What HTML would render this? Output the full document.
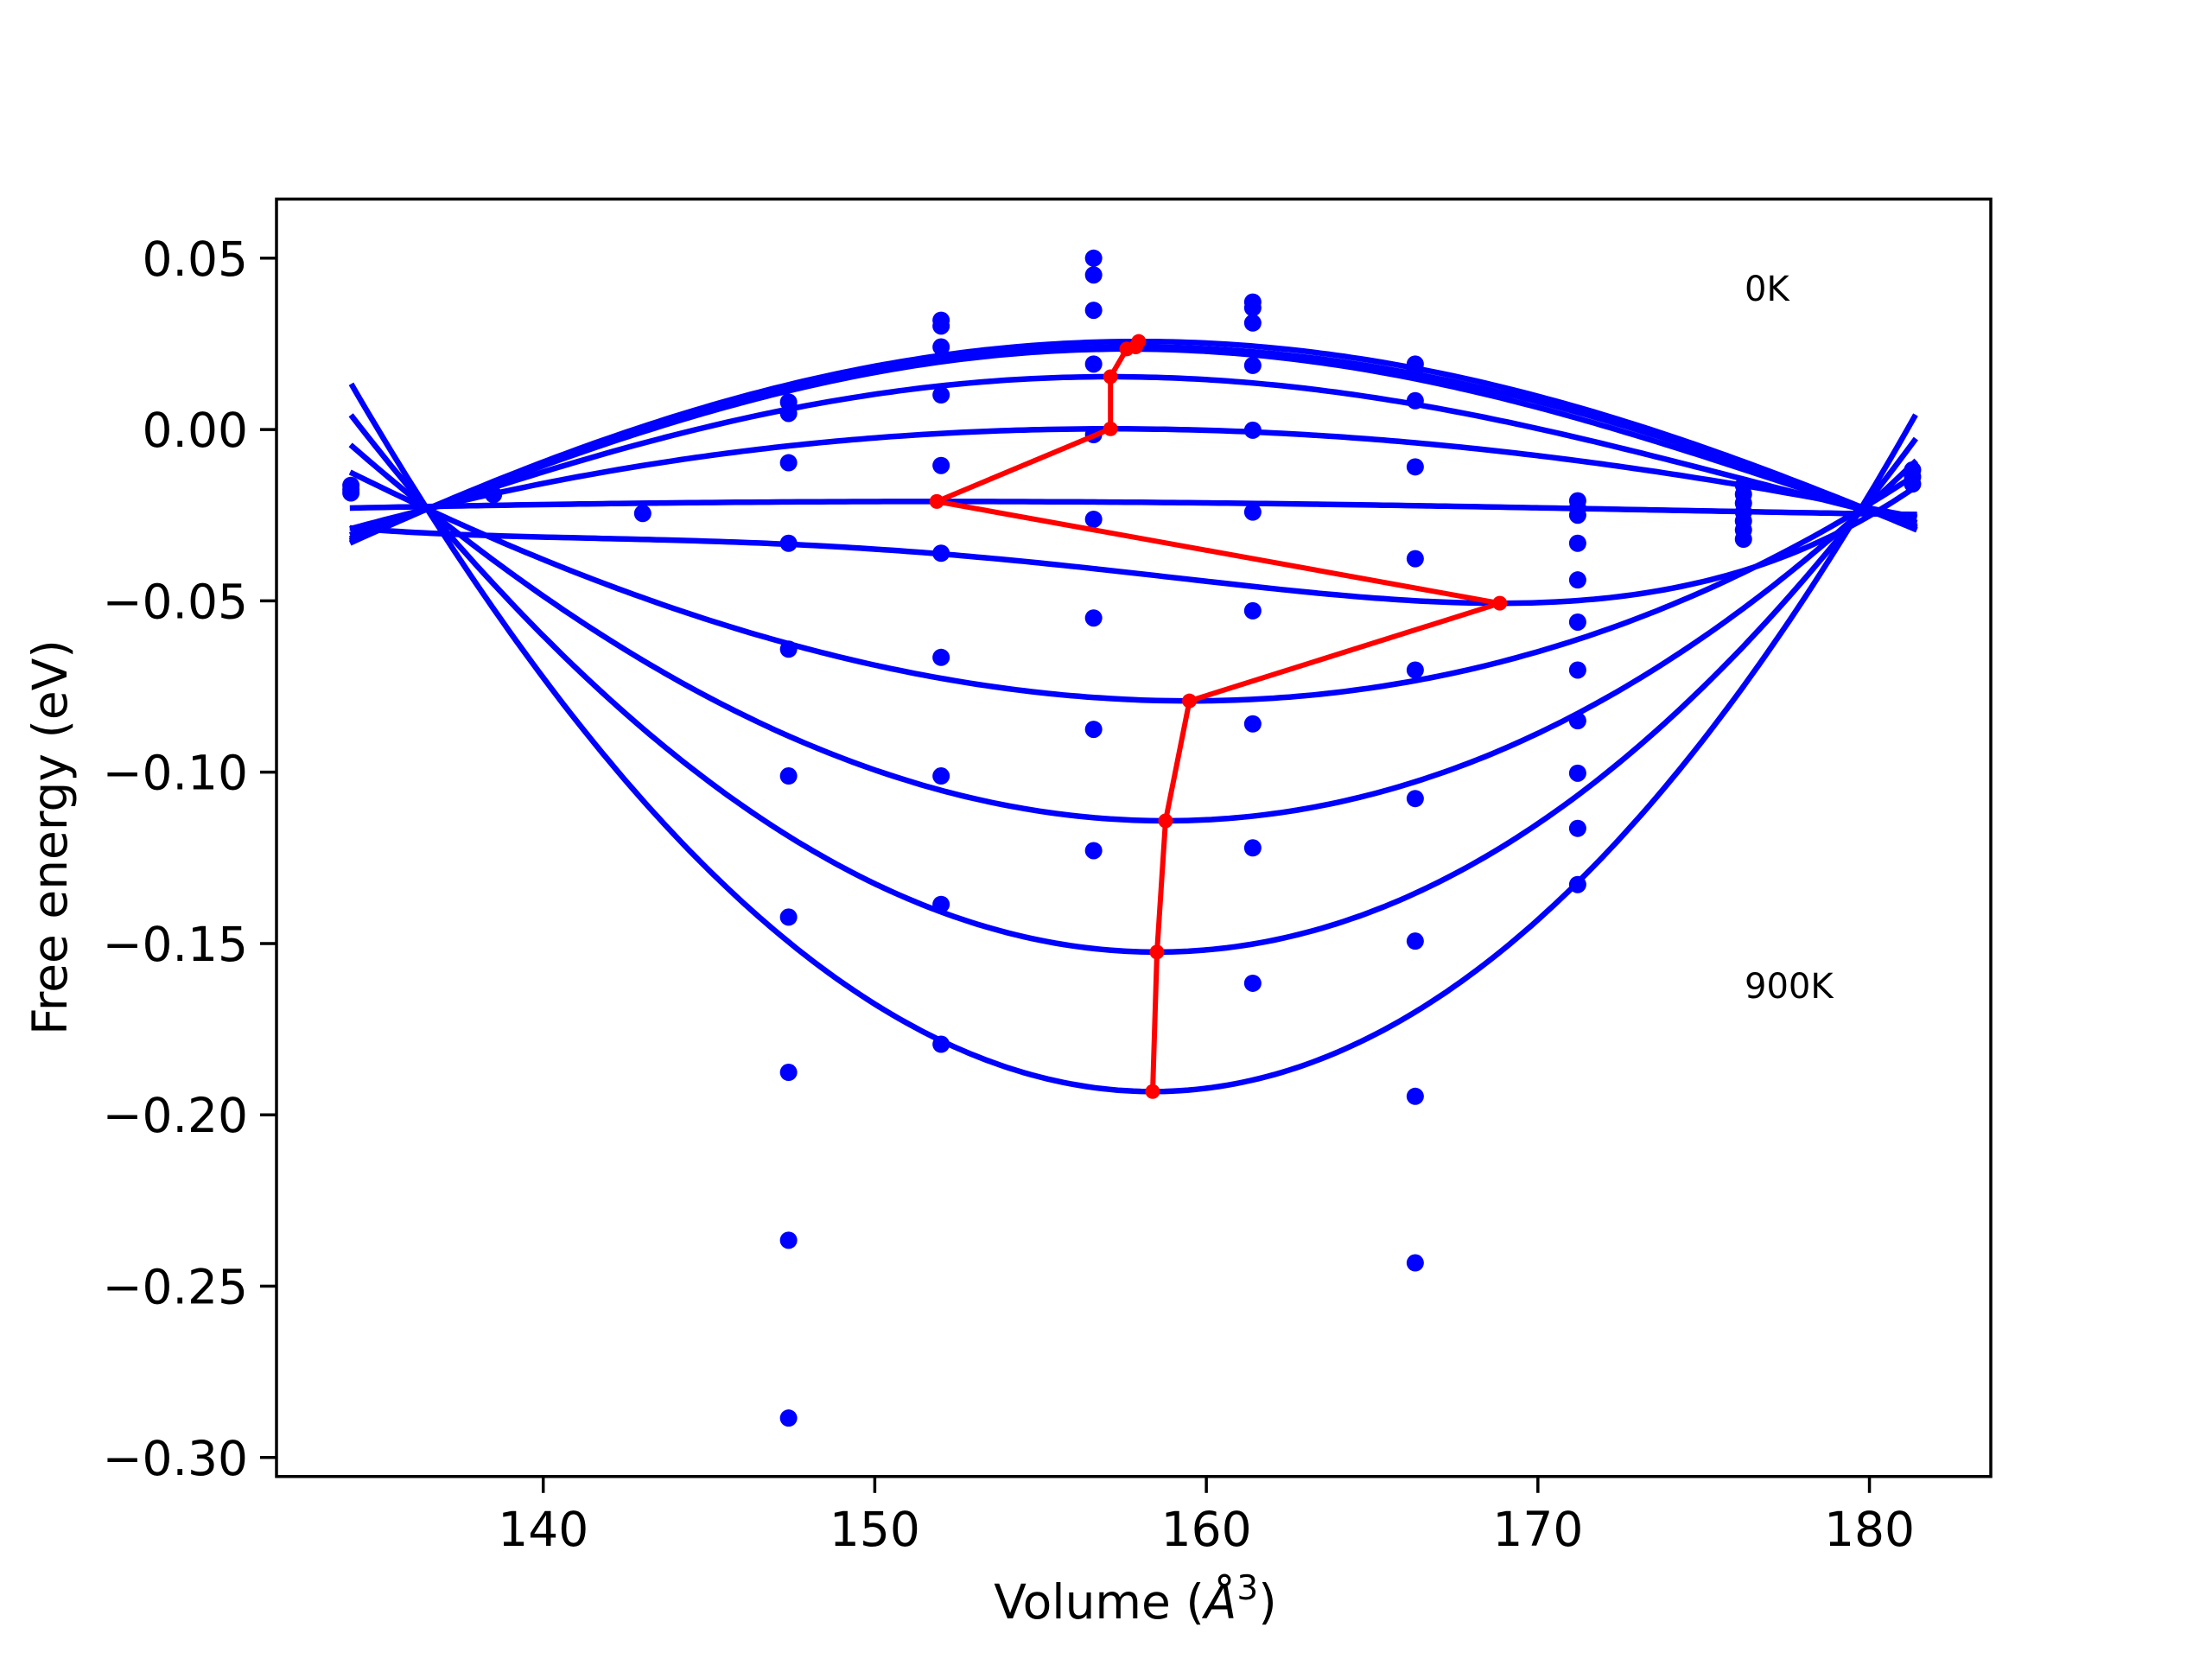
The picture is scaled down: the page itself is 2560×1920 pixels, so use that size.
<!DOCTYPE html>
<html><head><meta charset="utf-8"><style>
html,body{margin:0;padding:0;background:#fff;}
svg{display:block;font-family:"DejaVu Sans","Liberation Sans",sans-serif;}
</style></head><body>
<svg id="chart" width="2560" height="1920" viewBox="0 0 2560 1920" xmlns="http://www.w3.org/2000/svg">
<rect width="2560" height="1920" fill="#fff"/>
<g id="plot"></g>
<g id="axes"></g>
</svg>
<script>
const volumes = [134.2,138.5,143.0,147.4,152.0,156.6,161.4,166.3,171.2,176.2,181.3];
const energies = [
 [-0.0163,-0.0175,-0.0185],
 [-0.019],
 [-0.0245],
 [0.008,0.0047,-0.0097,-0.0332,-0.0641,-0.1011,-0.1423,-0.1876,-0.2366,-0.2885],
 [0.0319,0.0302,0.0241,0.0101,-0.0105,-0.0361,-0.0665,-0.1011,-0.1386,-0.1794],
 [0.05,0.0451,0.0348,0.0191,-0.0015,-0.0262,-0.055,-0.0875,-0.1229],
 [0.0372,0.0355,0.0311,0.0187,-0.0002,-0.0241,-0.0529,-0.0859,-0.1221,-0.1616],
 [0.0191,0.0175,0.0084,-0.0109,-0.0377,-0.0702,-0.1077,-0.1493,-0.1946,-0.2432],
 [-0.0208,-0.0229,-0.025,-0.0332,-0.0439,-0.0562,-0.0702,-0.085,-0.1003,-0.1164,-0.1328],
 [-0.0163,-0.0189,-0.0215,-0.0241,-0.0267,-0.0293,-0.032],
 [-0.0118,-0.0138,-0.0159]
];
const minVolumes = [157.96,157.87,157.6,157.11,157.11,151.87,168.85,159.49,158.77,158.51,158.38];
const minEnergies = [0.0257,0.0241,0.0235,0.0154,0.0002,-0.0210,-0.0507,-0.0792,-0.1142,-0.1525,-0.1932];
const leftEndEnergies = [-0.0328,-0.0322,-0.0316,-0.0305,-0.0288,-0.0229,-0.0288,-0.0128,-0.005,0.0036,0.0126];
const rightEndEnergies = [-0.029,-0.0285,-0.028,-0.027,-0.0255,-0.0248,-0.017,-0.0135,-0.0096,-0.0033,0.0036];
const anchorVolumes = [136.5,136.5,136.5,136.5,136.5,172.0,147.4,136.5,136.5,136.5,136.5];
const anchorEnergies = [-0.0232,-0.0232,-0.0232,-0.0232,-0.0232,-0.0232,-0.0335,-0.0232,-0.0232,-0.0232,-0.0232];
const xTicks = [140,150,160,170,180];
const yTicks = [0.05,0.00,-0.05,-0.10,-0.15,-0.20,-0.25,-0.30];
const yTickLabels = ["0.05","0.00","\u22120.05","\u22120.10","\u22120.15","\u22120.20","\u22120.25","\u22120.30"];
const vStart = 134.25, vEnd = 181.35;

const L=320,R=2304,T=230.4,B=1708.8;
const xmin=131.955,xmax=183.66,ymin=-0.30555,ymax=0.06725;
const X=v=>L+(v-xmin)/(xmax-xmin)*(R-L);
const Y=e=>B-(e-ymin)/(ymax-ymin)*(B-T);
const NS="http://www.w3.org/2000/svg";
const plot=document.getElementById('plot'), axes=document.getElementById('axes');
function mk(tag,attrs,parent){const el=document.createElementNS(NS,tag);for(const k in attrs)el.setAttribute(k,attrs[k]);parent.appendChild(el);return el;}

const defs=mk('defs',{},plot);
const cp=mk('clipPath',{id:'clip'},defs);
mk('rect',{x:L,y:T,width:R-L,height:B-T},cp);
const g=mk('g',{'clip-path':'url(#clip)'},plot);

function solve(A,b){
  const n=b.length;
  for(let i=0;i<n;i++){
    let m=i;for(let r=i+1;r<n;r++)if(Math.abs(A[r][i])>Math.abs(A[m][i]))m=r;
    [A[i],A[m]]=[A[m],A[i]];[b[i],b[m]]=[b[m],b[i]];
    for(let r=i+1;r<n;r++){const f=A[r][i]/A[i][i];for(let c=i;c<n;c++)A[r][c]-=f*A[i][c];b[r]-=f*b[i];}
  }
  const x=new Array(n).fill(0);
  for(let i=n-1;i>=0;i--){let s=b[i];for(let c=i+1;c<n;c++)s-=A[i][c]*x[c];x[i]=s/A[i][i];}
  return x;
}
function curveFn(vm,em,eL,eR,va,ea){
  const c=158, s=10;
  const t=v=>(v-c)/s;
  const row=u=>[1,u,u*u,u*u*u,u*u*u*u];
  const tm=t(vm);
  const A=[row(t(vStart)),row(t(vEnd)),row(tm),[0,1,2*tm,3*tm*tm,4*tm*tm*tm],row(t(va))];
  const k=solve(A,[eL,eR,em,0,ea]);
  return v=>{const u=t(v);return k[0]+u*(k[1]+u*(k[2]+u*(k[3]+u*k[4])));};
}
for(let i=0;i<minVolumes.length;i++){
  const f=curveFn(minVolumes[i],minEnergies[i],leftEndEnergies[i],rightEndEnergies[i],anchorVolumes[i],anchorEnergies[i]);
  let d='';
  for(let k=0;k<=200;k++){const v=vStart+(vEnd-vStart)*k/200;d+=(k?'L':'M')+X(v).toFixed(1)+','+Y(f(v)).toFixed(1);}
  const el=mk('path',{d:d,fill:'none',stroke:'#0000ff','stroke-width':6.5,'stroke-linecap':'square'},g);
  
  
}
for(let i=0;i<volumes.length;i++){
  for(const e of energies[i]){
    const c=mk('circle',{cx:X(volumes[i]),cy:Y(e),r:10,fill:'#0000ff'},g);
    
    
  }
}
let rd='';
for(let i=0;i<minVolumes.length;i++)rd+=(i?'L':'M')+X(minVolumes[i]).toFixed(1)+','+Y(minEnergies[i]).toFixed(1);
const rp=mk('path',{d:rd,fill:'none',stroke:'#ff0000','stroke-width':6,'stroke-linejoin':'round'},g);


for(let i=0;i<minVolumes.length;i++){
  const c=mk('circle',{cx:X(minVolumes[i]),cy:Y(minEnergies[i]),r:8.5,fill:'#ff0000'},g);
  
  
}
const fr=mk('rect',{x:L,y:T,width:R-L,height:B-T,fill:'none',stroke:'#000','stroke-width':3.5},axes);


for(const t of xTicks){
  const x=X(t);
  mk('line',{x1:x,x2:x,y1:B,y2:B+19,stroke:'#000','stroke-width':3.5},axes);
  const tx=mk('text',{x:x,y:B+80,'font-size':55,'text-anchor':'middle',fill:'#000'},axes);
  tx.textContent=t;
  
  
}
for(let i=0;i<yTicks.length;i++){
  const y=Y(yTicks[i]);
  mk('line',{x1:L-19,x2:L,y1:y,y2:y,stroke:'#000','stroke-width':3.5},axes);
  const tx=mk('text',{x:L-33,y:y+20,'font-size':55,'text-anchor':'end',fill:'#000'},axes);
  tx.textContent=yTickLabels[i];
  
  
}
</script>
<svg style="position:absolute;left:0;top:0" width="2560" height="1920" xmlns="http://www.w3.org/2000/svg" font-family="DejaVu Sans, Liberation Sans, sans-serif">
<text x="1314" y="1873" font-size="55" text-anchor="middle">Volume (<tspan font-style="italic">Å</tspan><tspan font-size="39" dy="-22">3</tspan><tspan dy="22">)</tspan></text>
<text transform="translate(77,969) rotate(-90)" font-size="55" text-anchor="middle">Free energy (eV)</text>
<text x="2019" y="348" font-size="40">0K</text>
<text x="2019" y="1155" font-size="40">900K</text>
</svg>
</body></html>
